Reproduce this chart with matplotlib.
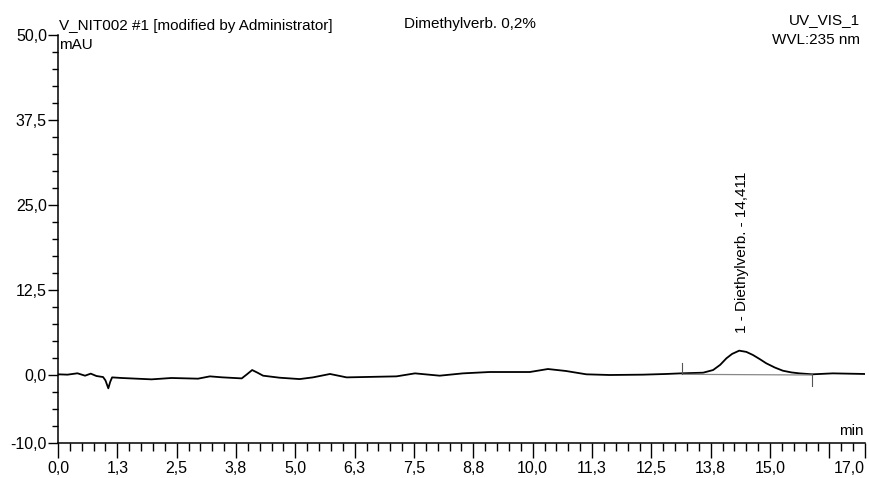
import matplotlib
matplotlib.use("Agg")
import matplotlib.pyplot as plt
from matplotlib.ticker import FixedLocator, MultipleLocator

plt.rcParams['font.family'] = ['Liberation Sans', 'DejaVu Sans']

# Chromatogram trace (time in min, signal in mAU)
time_min = [0.0, 0.2, 0.41, 0.57, 0.69, 0.81, 0.95, 1.0, 1.06, 1.1, 1.14, 1.34,
            1.97, 2.39, 2.95, 3.2, 3.45, 3.87, 3.98, 4.09, 4.2, 4.32, 4.67, 5.09,
            5.37, 5.73, 6.08, 7.13, 7.52, 8.04, 8.53, 9.09, 9.52, 9.94, 10.32,
            10.7, 11.13, 11.62, 12.32, 12.81, 13.15, 13.59, 13.8, 13.95, 14.08,
            14.2, 14.35, 14.5, 14.64, 14.78, 14.92, 15.1, 15.27, 15.45, 15.62,
            15.89, 16.32, 17.0]
signal_mau = [0.1, 0.05, 0.25, -0.1, 0.2, -0.15, -0.3, -0.8, -1.96, -1.0, -0.35, -0.44,
              -0.64, -0.44, -0.54, -0.2, -0.34, -0.5, 0.1, 0.73, 0.35, -0.1, -0.4, -0.6,
              -0.35, 0.15, -0.35, -0.2, 0.24, -0.1, 0.24, 0.44, 0.44, 0.44, 0.88,
              0.59, 0.1, 0.0, 0.05, 0.15, 0.25, 0.34, 0.73, 1.5, 2.45,
              3.1, 3.58, 3.4, 2.94, 2.35, 1.72, 1.1, 0.63, 0.38, 0.24,
              0.1, 0.24, 0.15]

# Integration baseline of peak 1
baseline_t = [13.15, 15.89]
baseline_v = [0.1, 0.0]

peak_label = "1 - Diethylverb. - 14,411"
peak_time = 14.35
peak_height = 3.58

x_major = [0.0, 1.25, 2.5, 3.75, 5.0, 6.25, 7.5, 8.75, 10.0, 11.25, 12.5, 13.75, 15.0, 16.25, 17.0]
x_labels = ['0,0', '1,3', '2,5', '3,8', '5,0', '6,3', '7,5', '8,8', '10,0', '11,3', '12,5', '13,8', '15,0', '', '17,0']
y_major = [-10.0, 0.0, 12.5, 25.0, 37.5, 50.0]
y_labels = ['-10,0', '0,0', '12,5', '25,0', '37,5', '50,0']

fig = plt.figure(figsize=(8.7, 4.78), dpi=100)
ax = fig.add_axes([58/870, 1-443/478, (865-58)/870, (443-35)/478])

ax.plot(time_min, signal_mau, color='black', lw=1.3, solid_joinstyle='round')
ax.plot(baseline_t, baseline_v, color='#888888', lw=0.9)
# integration markers
ax.plot([baseline_t[0], baseline_t[0]], [baseline_v[0], baseline_v[0] + 1.6], color='#555555', lw=0.8)
ax.plot([baseline_t[1], baseline_t[1]], [baseline_v[1], baseline_v[1] - 1.6], color='#555555', lw=0.8)

ax.set_xlim(0, 17)
ax.set_ylim(-10, 50)
for s in ['top', 'right']:
    ax.spines[s].set_visible(False)
ax.spines['left'].set_linewidth(1.1)
ax.spines['bottom'].set_linewidth(1.1)

ax.xaxis.set_major_locator(FixedLocator(x_major))
ax.set_xticklabels(x_labels)
ax.xaxis.set_minor_locator(MultipleLocator(0.25))
ax.yaxis.set_major_locator(FixedLocator(y_major))
ax.set_yticklabels(y_labels)
ax.yaxis.set_minor_locator(MultipleLocator(2.5))

ax.tick_params(axis='x', which='major', direction='out', length=11, width=1.0, labelsize=11.5, pad=2)
ax.tick_params(axis='x', which='minor', direction='out', length=6, width=1.0)
ax.tick_params(axis='y', which='major', direction='out', length=7, width=1.0, labelsize=11.5, pad=1)
ax.tick_params(axis='y', which='minor', direction='out', length=4, width=1.0)
ax.get_xticklabels()[-1].set_horizontalalignment('right')

ax.text(peak_time + 0.05, peak_height + 2.6, peak_label, rotation=90, ha='center', va='bottom',
        fontsize=11)

fig.text(59/870, 1-26/478, "V_NIT002 #1 [modified by Administrator]", ha='left', va='center', fontsize=11)
fig.text(470/870, 1-24/478, "Dimethylverb. 0,2%", ha='center', va='center', fontsize=11)
fig.text(860/870, 1-20/478, "UV_VIS_1", ha='right', va='center', fontsize=11)
fig.text(860/870, 1-40/478, "WVL:235 nm", ha='right', va='center', fontsize=11)
fig.text(59/870, 1-45/478, "mAU", ha='left', va='center', fontsize=11)
fig.text(864/870, 1-431/478, "min", ha='right', va='center', fontsize=11)

fig.savefig("out.png", dpi=100)
